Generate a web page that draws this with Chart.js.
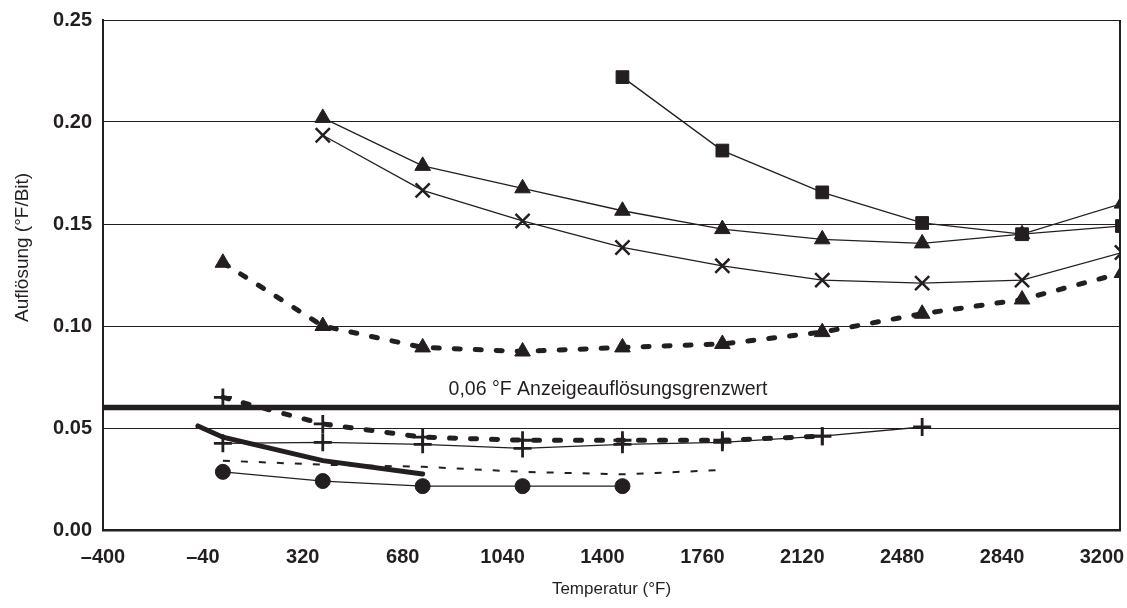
<!DOCTYPE html>
<html>
<head>
<meta charset="utf-8">
<title>Auflösung</title>
<script src="https://cdn.jsdelivr.net/npm/chart.js@4.4.1/dist/chart.umd.min.js"></script>
<style>
    html, body { margin: 0; padding: 0; background: #fff; }
</style>
</head>
<body>
<canvas id="chart" width="1127" height="608"></canvas>
<script>
// Messpunkte (°F) - 0 °C, 200 °C, 400 °C ... 1800 °C
const tempsF = [32, 392, 752, 1112, 1472, 1832, 2192, 2552, 2912, 3272];

const squareTemps = tempsF.slice(4);
const squareVals = [0.222, 0.186, 0.1655, 0.1505, 0.145, 0.149];

const triTemps = tempsF.slice(1);
const triVals = [0.202, 0.1785, 0.1675, 0.1565, 0.1475, 0.1425, 0.1405, 0.145, 0.160];

const crossTemps = tempsF.slice(1);
const crossVals = [0.1935, 0.1665, 0.1515, 0.1385, 0.1295, 0.1225, 0.121, 0.1225, 0.136];

const dashTriTemps = tempsF;
const dashTriVals = [0.131, 0.100, 0.0895, 0.0875, 0.0895, 0.0912, 0.097, 0.106, 0.113, 0.126];

const plusTemps = tempsF.slice(0, 8);
const plusVals = [0.0425, 0.043, 0.042, 0.040, 0.042, 0.043, 0.046, 0.0505];

const dashPlusTemps = tempsF.slice(0, 7);
const dashPlusVals = [0.065, 0.052, 0.0455, 0.044, 0.044, 0.044, 0.046];

const thinDashTemps = tempsF.slice(0, 6);
const thinDashVals = [0.034, 0.032, 0.031, 0.0285, 0.0273, 0.0294];

const thickTemps = [-58, 32, 392, 752];
const thickVals = [0.051, 0.0455, 0.034, 0.0275];

const circleTemps = tempsF.slice(0, 5);
const circleVals = [0.0285, 0.024, 0.0215, 0.0215, 0.0215];

// Grenzwert
const limitTemps = [-400, 3265];
const limitVals = [0.06, 0.06];
const limitLabel = '0,06 °F Anzeigeauflösungsgrenzwert';
const limitLabelTemp = 1420;

// Achsen
const xTickVals = [-400, -40, 320, 680, 1040, 1400, 1760, 2120, 2480, 2840, 3200];
const yTickVals = [0, 0.05, 0.10, 0.15, 0.20, 0.25];
const yTitle = 'Auflösung (°F/Bit)';
const yTitleFrom = 0.102; // unteres Ende des Achsentitels

const INK = '#231f20';
const FONT = "'Liberation Sans', Arial, sans-serif";

function series(xs, ys, style) {
    return Object.assign({
        data: xs.map((x, i) => ({ x: x, y: ys[i] })),
        borderColor: INK,
        backgroundColor: INK,
        pointBorderColor: INK,
        pointBackgroundColor: INK,
        borderWidth: 1.3,
        pointRadius: 0,
        pointBorderWidth: 1,
        tension: 0,
        clip: 0
    }, style);
}

const thickDash = { borderWidth: 5, borderDash: [6, 15], borderCapStyle: 'round' };

// rechter Rahmen, Y-Titel und Beschriftung des Grenzwerts
const framePlugin = {
    id: 'frame',
    beforeDatasetsDraw(chart) {
        const { ctx, chartArea } = chart;
        ctx.save();
        ctx.strokeStyle = INK;
        ctx.lineWidth = 2;
        ctx.beginPath();
        ctx.moveTo(chartArea.right, chartArea.top);
        ctx.lineTo(chartArea.right, chartArea.bottom);
        ctx.stroke();
        ctx.restore();
    },
    afterDatasetsDraw(chart) {
        const { ctx, scales } = chart;
        ctx.save();
        ctx.fillStyle = INK;
        ctx.font = '19.5px ' + FONT;
        ctx.textAlign = 'center';
        ctx.textBaseline = 'alphabetic';
        ctx.fillText(limitLabel, scales.x.getPixelForValue(limitLabelTemp), scales.y.getPixelForValue(limitVals[0]) - 13);

        ctx.translate(23, scales.y.getPixelForValue(yTitleFrom));
        ctx.rotate(-Math.PI / 2);
        ctx.font = '19px ' + FONT;
        ctx.textAlign = 'left';
        ctx.textBaseline = 'middle';
        ctx.fillText(yTitle, 0, 0);
        ctx.restore();
    }
};

new Chart(document.getElementById('chart'), {
    type: 'line',
    data: {
        datasets: [
            series(limitTemps, limitVals, { borderWidth: 5.5 }),
            series(squareTemps, squareVals, { pointStyle: 'rect', pointRadius: 9 }),
            series(triTemps, triVals, { pointStyle: 'triangle', pointRadius: 9 }),
            series(crossTemps, crossVals, { pointStyle: 'crossRot', pointRadius: 10, pointBorderWidth: 2.5 }),
            series(dashTriTemps, dashTriVals, Object.assign({ pointStyle: 'triangle', pointRadius: 9 }, thickDash)),
            series(plusTemps, plusVals, { pointStyle: 'cross', pointRadius: 9, pointBorderWidth: 2.8 }),
            series(dashPlusTemps, dashPlusVals, Object.assign({ pointStyle: 'cross', pointRadius: 9, pointBorderWidth: 2.8 }, thickDash)),
            series(thinDashTemps, thinDashVals, { borderWidth: 2, borderDash: [7, 11] }),
            series(thickTemps, thickVals, { borderWidth: 5, borderCapStyle: 'round' }),
            series(circleTemps, circleVals, { pointStyle: 'circle', pointRadius: 7.5 })
        ]
    },
    options: {
        responsive: false,
        animation: false,
        layout: { autoPadding: false, padding: { left: 0, right: 7, top: 20, bottom: 0 } },
        plugins: {
            legend: { display: false },
            tooltip: { enabled: false }
        },
        scales: {
            x: {
                type: 'linear',
                min: -400,
                max: 3265,
                afterBuildTicks: (scale) => { scale.ticks = xTickVals.map(v => ({ value: v })); },
                afterFit: (scale) => { scale.height = 78; scale.paddingLeft = 0; scale.paddingRight = 0; },
                grid: { display: false, drawTicks: false },
                border: { display: true, color: INK, width: 2.5 },
                ticks: {
                    color: INK,
                    padding: 15,
                    maxRotation: 0,
                    autoSkip: false,
                    font: { family: FONT, size: 20, weight: 'bold' },
                    callback: (v) => v < 0 ? '\u2013' + Math.abs(v) : String(v)
                },
                title: {
                    display: true,
                    text: 'Temperatur (°F)',
                    color: INK,
                    font: { family: FONT, size: 17 },
                    padding: { top: 0, bottom: 8 }
                }
            },
            y: {
                min: 0,
                max: 0.25,
                afterBuildTicks: (scale) => { scale.ticks = yTickVals.map(v => ({ value: v })); },
                afterFit: (scale) => { scale.width = 103; scale.paddingTop = 0; scale.paddingBottom = 0; },
                grid: { color: INK, lineWidth: 1, drawTicks: false },
                border: { display: true, color: INK, width: 2 },
                ticks: {
                    color: INK,
                    padding: 11,
                    font: { family: FONT, size: 20, weight: 'bold' },
                    callback: (v) => v.toFixed(2)
                }
            }
        }
    },
    plugins: [framePlugin]
});
</script>
</body>
</html>
